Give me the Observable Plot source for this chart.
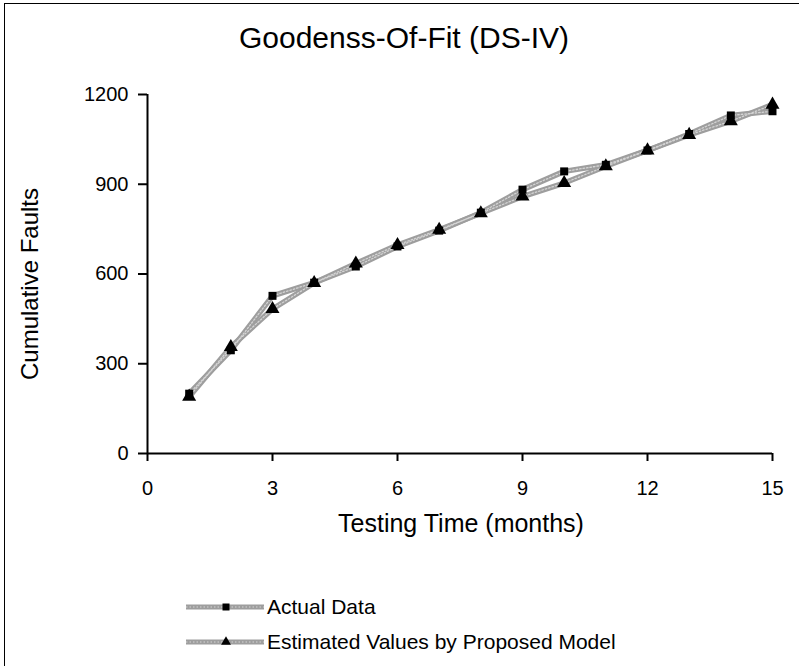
<!DOCTYPE html>
<html>
<head>
<meta charset="utf-8">
<script src="https://cdn.jsdelivr.net/npm/d3@7"></script>
<script src="https://cdn.jsdelivr.net/npm/@observablehq/plot@0.6"></script>
<style>
  body { margin: 0; background: #fff; font-family: "Liberation Sans", Arial, sans-serif; }
  #wrap { position: relative; width: 799px; height: 666px; overflow: hidden; background: #fff; }
  #frame { position: absolute; left: 4px; top: 3px; width: 900px; height: 900px;
           border-top: 1px solid #000; border-left: 1px solid #000; }
  #chart { position: absolute; left: 0; top: 0; }
  .lbl { position: absolute; white-space: nowrap; color: #000; line-height: 1; }
  #title { left: 404px; top: 38px; font-size: 30px; transform: translate(-50%, -50%); }
  #xtitle { left: 461px; top: 523px; font-size: 25px; transform: translate(-50%, -50%); }
  #ytitle { left: 30px; top: 284px; font-size: 24px; transform: translate(-50%, -50%) rotate(-90deg); }
  .leg { position: absolute; left: 186px; display: flex; align-items: center; font-size: 21px; line-height: 1; }
  .leg svg { display: block; margin-right: 3px; }
</style>
</head>
<body>
<div id="wrap">
  <div id="frame"></div>
  <div id="chart"></div>
  <div class="lbl" id="title"></div>
  <div class="lbl" id="xtitle"></div>
  <div class="lbl" id="ytitle"></div>
  <div id="legend"></div>
</div>
<script>
// ---- data ----
const months = [1, 2, 3, 4, 5, 6, 7, 8, 9, 10, 11, 12, 13, 14, 15];
const actual = [200, 345, 527, 571, 625, 692, 745, 805, 882, 943, 965, 1013, 1068, 1130, 1144];
const estimated = [190, 356, 483, 570, 635, 697, 748, 803, 859, 904, 960, 1013, 1065, 1111, 1166];
const seriesNames = ["Actual Data", "Estimated Values by Proposed Model"];
const xTicks = [0, 3, 6, 9, 12, 15];
const yTicks = [0, 300, 600, 900, 1200];
const titleText = "Goodenss-Of-Fit (DS-IV)";
const xLabel = "Testing Time (months)";
const yLabel = "Cumulative Faults";

// ---- tables ----
const actualRows = months.map((m, i) => ({month: m, value: actual[i], series: seriesNames[0]}));
const estRows = months.map((m, i) => ({month: m, value: estimated[i], series: seriesNames[1]}));
const rows = actualRows.concat(estRows);

const lineColor = "#9e9e9e";
const lineDots = "#d4d4d4";

const chart = Plot.plot({
  width: 799,
  height: 666,
  marginLeft: 147,
  marginRight: 27,
  marginTop: 94,
  marginBottom: 213,
  style: {fontFamily: "Liberation Sans, Arial, sans-serif", fontSize: "20px", color: "#000", background: "transparent", overflow: "visible"},
  x: {domain: [0, 15]},
  y: {domain: [0, 1200]},
  marks: [
    Plot.line(rows, {x: "month", y: "value", z: "series", stroke: lineColor, strokeWidth: 5.5}),
    Plot.line(rows, {x: "month", y: "value", z: "series", stroke: lineDots, strokeWidth: 1.3, strokeDasharray: "1.5,2"}),
    Plot.ruleY([0], {x1: 0, x2: 15, stroke: "#000", strokeWidth: 2}),
    Plot.ruleX([0], {y1: 0, y2: 1200, stroke: "#000", strokeWidth: 2}),
    Plot.axisX({ticks: xTicks, tickSize: 8, tickPadding: 19, tickFormat: d3.format("d"), label: null, strokeWidth: 2, fontSize: 20}),
    Plot.axisY({ticks: yTicks, tickSize: 9, tickPadding: 10, tickFormat: d3.format("d"), label: null, strokeWidth: 2, fontSize: 20}),
    Plot.dot(actualRows, {x: "month", y: "value", symbol: "square", r: 4.5, fill: "#000", stroke: "none"}),
    Plot.dot(estRows, {x: "month", y: "value", symbol: "triangle", r: 5.2, fill: "#000", stroke: "none"})
  ]
});
document.getElementById("chart").appendChild(chart);

document.getElementById("title").textContent = titleText;
document.getElementById("xtitle").textContent = xLabel;
document.getElementById("ytitle").textContent = yLabel;

// ---- legend ----
const legend = document.getElementById("legend");
const legTops = [596, 631];
const legSymbols = [d3.symbolSquare, d3.symbolTriangle];
const legSizes = [49, 42];
seriesNames.forEach((name, i) => {
  const row = document.createElement("div");
  row.className = "leg";
  row.style.top = legTops[i] + "px";
  const svg = d3.create("svg").attr("width", 78).attr("height", 18);
  svg.append("line").attr("x1", 0).attr("x2", 78).attr("y1", 9).attr("y2", 9)
    .attr("stroke", lineColor).attr("stroke-width", 5);
  svg.append("line").attr("x1", 0).attr("x2", 78).attr("y1", 9).attr("y2", 9)
    .attr("stroke", lineDots).attr("stroke-width", 1.2).attr("stroke-dasharray", "1.5,2");
  svg.append("path").attr("transform", "translate(40,9)")
    .attr("d", d3.symbol(legSymbols[i], legSizes[i])()).attr("fill", "#000");
  row.appendChild(svg.node());
  const t = document.createElement("span");
  t.textContent = name;
  row.appendChild(t);
  legend.appendChild(row);
});
</script>
</body>
</html>
